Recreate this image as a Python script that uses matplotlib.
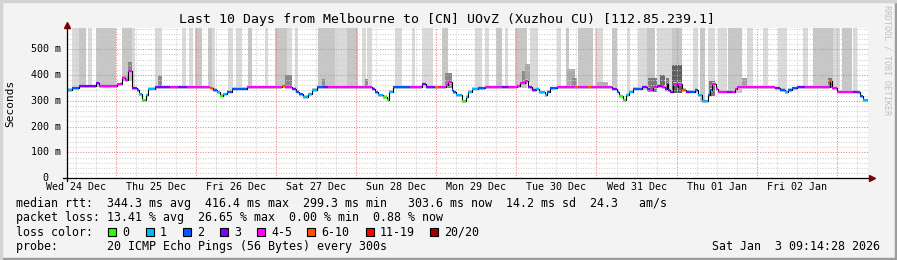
import numpy as np
import matplotlib
matplotlib.use("Agg")
import matplotlib.pyplot as plt
from matplotlib.patches import Rectangle

W, H = 897, 260

# median rtt as steps: start hour (from left edge), value in ms, loss class
med_h = [0, 1.5, 3.6, 8.7, 9.6, 15, 15.9, 16.5, 17.4, 18.3, 19.5, 21, 21.6, 22.5, 23.7,
         24.3, 26.4, 30.9, 33.3, 36, 42.9, 43.8, 45, 45.9, 46.8, 48, 49.5, 54, 64.5, 65.4,
         67.5, 68.7, 69.6, 70.8, 72.3, 73.5, 75, 76.8, 78.3, 91.5, 92.4, 93.3, 94.8, 96,
         96.6, 97.8, 102.9, 106.5, 107.7, 110.4, 111.6, 113.7, 114.3, 115.5, 115.8, 116.7,
         118.5, 119.7, 120.3, 121.5, 123.3, 125.4, 130.5, 132.3, 135, 135.9, 137.4, 138.3,
         139.5, 140.7, 141.6, 143.4, 144, 144.9, 147, 152.4, 153.3, 156.3, 157.2, 163.5,
         165, 165.6, 166.8, 167.7, 168.6, 169.8, 172.5, 174, 174.9, 175.8, 177, 178.5,
         179.4, 180, 180.3, 180.9, 181.8, 183, 183.3, 184.5, 185.7, 186.9, 188.4, 189.3,
         190.5, 192.3, 192.9, 193.5, 194.7, 195.3, 198, 199.5, 200.4, 201, 212.4, 213.9,
         215.4, 216.3, 217.5, 219, 221.4, 228.9, 229.5, 231, 235.8, 237, 237.9, 238.8]
med_ms = [343, 349, 356, 370, 356, 365, 367, 388, 379, 416, 349, 343, 326, 304, 321,
          347, 353, 353, 353, 353, 350, 343, 333, 320, 326, 336, 347, 353, 356, 353,
          347, 336, 326, 316, 326, 343, 353, 353, 353, 347, 333, 321, 316, 305,
          336, 353, 353, 367, 353, 353, 353, 362, 372, 343, 333, 323,
          300, 316, 336, 347, 349, 353, 353, 353, 356, 369, 378, 353,
          343, 347, 333, 321, 336, 349, 353, 353, 353, 353, 353, 347,
          336, 318, 303, 321, 336, 347, 353, 347, 340, 353, 356, 353,
          345, 367, 340, 336, 367, 353, 367, 343, 336, 336, 343, 321,
          300, 321, 343, 367, 347, 336, 336, 336, 345, 353, 349, 343,
          334, 343, 349, 353, 353, 375, 349, 336, 336, 333, 317, 303]
med_loss = [1, 2, 3, 3, 4, 4, 4, 4, 4, 4, 3, 2, 1, 0, 1,
            1, 3, 4, 3, 4, 5, 2, 1, 0, 1, 2, 2, 4, 5, 4,
            3, 2, 2, 1, 1, 1, 2, 3, 4, 3, 2, 1, 0, 0,
            1, 2, 4, 3, 3, 5, 4, 4, 4, 2, 2, 1,
            0, 1, 1, 1, 2, 4, 3, 4, 4, 4, 4, 3,
            3, 1, 1, 1, 2, 2, 4, 5, 4, 5, 4, 3,
            2, 0, 0, 1, 1, 2, 3, 3, 4, 4, 3, 4,
            3, 3, 3, 3, 4, 4, 4, 5, 3, 2, 2, 1,
            1, 2, 2, 4, 4, 4, 3, 4, 4, 4, 3, 2,
            1, 2, 2, 3, 4, 5, 4, 4, 3, 2, 2, 1]
t_end = 240

# tall smoke bars (hours) and their shade
bar_h0 = [1.5, 3.6, 6.3, 8.7, 16.5, 19.5, 26.4, 34.5, 36.6, 38.4, 42.3, 43.5, 48.3, 50.7,
          54.3, 59.4, 62.4, 66, 68.4, 75.3, 80.4, 84, 88.5, 90, 98.4, 103.5, 106.5, 112.5,
          122.4, 125.4, 128.7, 131.4, 134.4, 138.9, 147, 149.7, 153.3, 158.4, 163.5, 168,
          171.3, 174, 177, 179.4, 181.5, 187.8, 189.9, 192.3, 195.3, 198.3, 204, 208.8,
          213.3, 220.8, 223.8, 229.8, 232.5, 235.8]
bar_h1 = [3.6, 5.7, 7.5, 14.7, 19.5, 20.4, 28.5, 35.7, 37.8, 40.5, 43.5, 44.4, 49.8, 52.5,
          55.5, 60.3, 66, 67.5, 69.3, 80.4, 84, 87.3, 89.7, 91.5, 100.5, 104.4, 109.8, 114.3,
          124.5, 126.6, 130.5, 132.3, 138, 141.3, 148.2, 150.6, 157.8, 160.8, 165, 168.9,
          174, 176.4, 179.4, 181.5, 184.5, 189.3, 191.4, 194.4, 198, 202.5, 205.8, 210.3,
          216, 222.3, 229.8, 231.9, 235.5, 237]
bar_shade = ['l', 'm', 'l', 'm', 'm', 'l', 'l', 'l', 'l', 'm', 'm', 'l', 'l', 'l',
             'm', 'l', 'm', 'l', 'l', 'm', 'l', 'm', 'l', 'l', 'l', 'l', 'l', 'm',
             'l', 'l', 'm', 'l', 'm', 'l', 'l', 'm', 'm', 'l', 'm', 'l',
             'l', 'm', 'l', 'l', 'm', 'l', 'm', 'l', 'l', 'm', 'l', 'l',
             'l', 'l', 'm', 'l', 'm', 'l']

# darker smoke just above the median
spk_h0 = [16.5, 18.3, 27.3, 65.4, 76.5, 89.4, 113.4, 136.5, 137.4, 150, 151.5, 159,
          174.3, 177.9, 179.7, 181.5, 192.6, 202.5, 228.3]
spk_h1 = [18.3, 19.5, 28.5, 67.5, 77.4, 90.3, 115.5, 138, 138.9, 152.4, 153, 162.3,
          177, 179.4, 180.6, 184.5, 194.4, 204, 229.5]
spk_top = [395, 452, 395, 401, 383, 383, 409, 414, 444, 425, 389, 374,
           389, 401, 389, 440, 375, 389, 389]
spk_grey = ['#a8a8a8', '#888888', '#8c8c8c', '#8a8a8a', '#8c8c8c', '#8c8c8c', '#8a8a8a',
            '#8a8a8a', '#a8a8a8', '#acacac', '#8c8c8c', '#b0b0b0', '#7a7a7a', '#6c6c6c',
            '#7a7a7a', '#5e5e5e', '#7a7a7a', '#a0a0a0', '#7a7a7a']

loss_labels = ['0', '1', '2', '3', '4-5', '6-10', '11-19', '20/20']
loss_colors = ['#26ff00', '#00b8ff', '#0059ff', '#7e00ff', '#ff00ff', '#ff5500',
               '#ff0000', '#a10000']
day_labels = ['Wed 24 Dec', 'Thu 25 Dec', 'Fri 26 Dec', 'Sat 27 Dec', 'Sun 28 Dec',
              'Mon 29 Dec', 'Tue 30 Dec', 'Wed 31 Dec', 'Thu 01 Jan', 'Fri 02 Jan']
first_midnight = 14.75
y_top = 582

shades = {'l': '#dadada', 'm': '#c6c6c6'}
mono = 'DejaVu Sans Mono'


def fx(px):
    return px / W


def fy(py):
    return 1 - py / H


def med_at(h):
    i = np.searchsorted(med_h, h, side='right') - 1
    return med_ms[max(i, 0)]


fig = plt.figure(figsize=(W / 100, H / 100), dpi=100, facecolor='#f3f3f3')
ax = fig.add_axes([fx(67), fy(178.3), 800.5 / W, 150.3 / H])
ax.set_facecolor('white')
ax.set_xlim(0, t_end)
ax.set_ylim(0, y_top)
for s in ax.spines.values():
    s.set_visible(False)
ax.set_xticks([])
ax.set_yticks([])

# smoke
for a, b, s in zip(bar_h0, bar_h1, bar_shade):
    lo = min(med_at(a), med_at((a + b) / 2)) - 4
    ax.fill_between([a, b], lo, y_top, color=shades[s], lw=0, zorder=1)
for a, b, top, g in zip(spk_h0, spk_h1, spk_top, spk_grey):
    lo = min(med_at(a), med_at((a + b) / 2)) - 4
    ax.fill_between([a, b], lo, top, color=g, lw=0, zorder=2)

edges = np.array(med_h + [t_end])
vals = np.array(med_ms + [med_ms[-1]])
ax.fill_between(edges, vals - 7, vals + 5, step='post', color='#cccccc', lw=0, zorder=2)

# grid
for v in range(20, y_top, 20):
    major = v % 100 == 0
    ax.axhline(v, color='#f08080' if major else '#cfcfcf', lw=0.75,
               ls=(0, (1, 1.5)), zorder=3)
g = first_midnight - 12
while g < t_end:
    if g > 0.5:
        major = abs((g - first_midnight) % 24) < 1e-6
        ax.axvline(g, color='#f08080' if major else '#cfcfcf', lw=0.75,
                   ls=(0, (1, 1.5)), zorder=3)
    g += 6

# median line
ax.step(edges, vals, where='post', color='black', lw=0.8, zorder=4)
lc = ax.hlines(med_ms, edges[:-1], edges[1:], colors=[loss_colors[c] for c in med_loss],
               lw=1.6, zorder=5)
lc.set_capstyle('butt')

# axes with arrows
ax.plot([-0.005, 1.006], [0, 0], transform=ax.transAxes, color='black', lw=0.9,
        clip_on=False, zorder=6)
ax.plot([0, 0], [-0.02, 1.02], transform=ax.transAxes, color='black', lw=0.9,
        clip_on=False, zorder=6)
ax.plot([1.006], [0], transform=ax.transAxes, marker='>', ms=4.5, color='#800000',
        clip_on=False, zorder=7)
ax.plot([0], [1.02], transform=ax.transAxes, marker='^', ms=4.5, color='#800000',
        clip_on=False, zorder=7)

# tick labels
for v in range(0, 600, 100):
    if v == 0:
        ax.text(-19 / 800.5 * t_end, v, '0', ha='right', va='center', fontsize=7.2,
                family=mono)
    else:
        ax.text(-6 / 800.5 * t_end, v, f'{v} m', ha='right', va='center',
                fontsize=7.2, family=mono)
for i, lab in enumerate(day_labels):
    ax.text(first_midnight - 12 + 24 * i, -34, lab, ha='center', va='center',
            fontsize=7.2, family=mono)

fig.text(fx(10), fy(103), 'Seconds', rotation=90, ha='center', va='center',
         fontsize=8, family=mono)
fig.text(fx(446.5), fy(19), 'Last 10 Days from Melbourne to [CN] UOvZ (Xuzhou CU) [112.85.239.1]',
         ha='center', va='center', fontsize=9.5, family=mono)
fig.text(fx(887), fy(60), 'RRDTOOL / TOBI OETIKER', rotation=270, ha='center',
         va='center', fontsize=6, family=mono, color='#c0c0c0')

# legend
leg = 8.4
fig.text(fx(16), fy(204), 'median rtt:  344.3 ms avg  416.4 ms max  299.3 ms min   303.6 ms now  14.2 ms sd  24.3   am/s',
         ha='left', va='center', fontsize=leg, family=mono)
fig.text(fx(16), fy(218), 'packet loss: 13.41 % avg  26.65 % max  0.00 % min  0.88 % now',
         ha='left', va='center', fontsize=leg, family=mono)
fig.text(fx(16), fy(232), 'loss color:', ha='left', va='center', fontsize=leg, family=mono)
box_x = [108, 146, 183, 220, 257, 307, 366, 430]
for bx, lab, col in zip(box_x, loss_labels, loss_colors):
    fig.patches.append(Rectangle((fx(bx), fy(236)), 8 / W, 8 / H, transform=fig.transFigure,
                                 facecolor=col, edgecolor='black', lw=0.8))
    fig.text(fx(bx + 14), fy(232), lab, ha='left', va='center', fontsize=leg, family=mono)
fig.text(fx(16), fy(246.5), 'probe:       20 ICMP Echo Pings (56 Bytes) every 300s',
         ha='left', va='center', fontsize=leg, family=mono)
fig.text(fx(880), fy(246.5), 'Sat Jan  3 09:14:28 2026', ha='right', va='center',
         fontsize=leg, family=mono)

# frame
fig.patches.append(Rectangle((0, 0), 1, 2 / H, transform=fig.transFigure, color='#9c9c9c'))
fig.patches.append(Rectangle((1 - 2 / W, 0), 2 / W, 1, transform=fig.transFigure, color='#9c9c9c'))
fig.patches.append(Rectangle((0, 1 - 2 / H), 1, 2 / H, transform=fig.transFigure, color='#d4d4d4'))
fig.patches.append(Rectangle((0, 0), 2 / W, 1, transform=fig.transFigure, color='#d4d4d4'))

fig.savefig('out.png', dpi=100, facecolor=fig.get_facecolor())
